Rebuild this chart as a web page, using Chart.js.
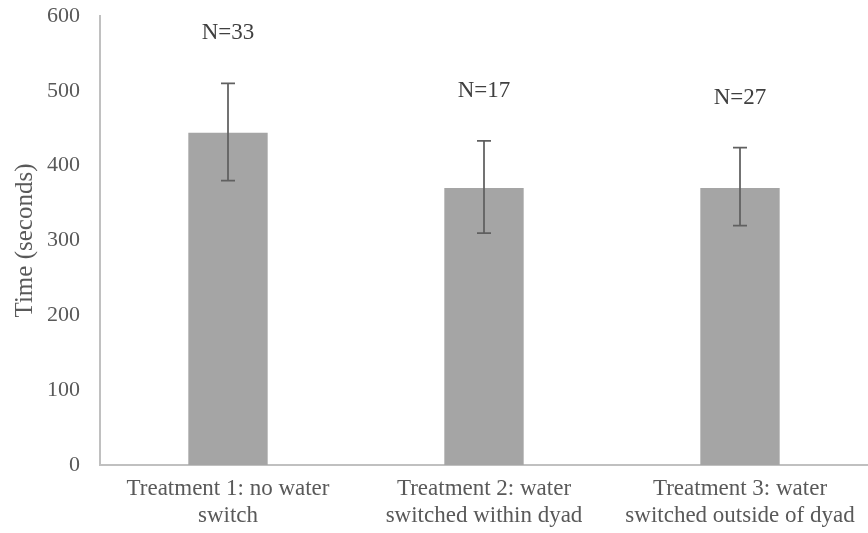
<!DOCTYPE html>
<html>
<head>
<meta charset="utf-8">
<script src="https://cdn.jsdelivr.net/npm/chart.js@4"></script>
<style>
  html, body { margin: 0; padding: 0; background: #fff; }
  #wrap { width: 868px; height: 533px; }
</style>
</head>
<body>
<div id="wrap"><canvas id="myChart"></canvas></div>
<script>
var categories = [
  ["Treatment 1: no water", "switch"],
  ["Treatment 2: water", "switched within dyad"],
  ["Treatment 3: water", "switched outside of dyad"],
];
var meanTime = [444, 370, 370];
var errHigh = [510, 433, 424];
var errLow = [380, 310, 320];
var sampleLabels = ["N=33", "N=17", "N=27"];
var yTicks = [0, 100, 200, 300, 400, 500, 600];

var serif = "'Liberation Serif', 'Times New Roman', serif";

// error bars + N= labels, drawn through the chart scales
var errorBars = {
  id: "errorBars",
  afterDatasetsDraw(chart) {
    const ctx = chart.ctx;
    const x = chart.scales.x;
    const y = chart.scales.y;
    ctx.save();
    ctx.strokeStyle = "#606060";
    ctx.lineWidth = 1.75;
    meanTime.forEach((v, i) => {
      const px = x.getPixelForValue(i);
      const top = y.getPixelForValue(errHigh[i]);
      const bot = y.getPixelForValue(errLow[i]);
      ctx.beginPath();
      ctx.moveTo(px, top);
      ctx.lineTo(px, bot);
      ctx.moveTo(px - 7, top);
      ctx.lineTo(px + 7, top);
      ctx.moveTo(px - 7, bot);
      ctx.lineTo(px + 7, bot);
      ctx.stroke();

      ctx.fillStyle = "#404040";
      ctx.font = "23px " + serif;
      ctx.textAlign = "center";
      ctx.textBaseline = "middle";
      ctx.fillText(sampleLabels[i], px, top - 50);
    });
    ctx.restore();
  },
};

document.addEventListener("DOMContentLoaded", function () {
  const ctx = document.getElementById("myChart");

  new Chart(ctx, {
    type: "bar",
    data: {
      labels: categories,
      datasets: [
        {
          label: "Time",
          data: meanTime,
          backgroundColor: "#a5a5a5",
          barPercentage: 0.31,
          categoryPercentage: 1,
        },
      ],
    },
    options: {
      responsive: true,
      maintainAspectRatio: false,
      animation: false,
      layout: { padding: { top: 16, right: 0, bottom: 0, left: 0 } },
      plugins: {
        legend: { display: false },
        tooltip: { enabled: false },
      },
      scales: {
        x: {
          afterFit(scale) {
            scale.height = 68;
          },
          grid: { display: false, drawTicks: false },
          border: { display: true, color: "#c0c0c0", width: 2 },
          ticks: {
            color: "#595959",
            font: { family: serif, size: 23, lineHeight: 1.18 },
            padding: 10,
            maxRotation: 0,
          },
        },
        y: {
          min: 0,
          max: 600,
          afterFit(scale) {
            scale.width = 100;
            scale.paddingTop = 0;
          },
          afterBuildTicks(scale) {
            scale.ticks = yTicks.map((v) => ({ value: v }));
          },
          grid: { display: false, drawTicks: false },
          border: { display: true, color: "#c0c0c0", width: 2 },
          ticks: {
            color: "#595959",
            font: { family: serif, size: 22 },
            padding: 20,
          },
          title: {
            display: true,
            text: "Time (seconds)",
            color: "#595959",
            font: { family: serif, size: 25, weight: "normal" },
            padding: { top: 10, bottom: 0 },
          },
        },
      },
    },
    plugins: [errorBars],
  });
});
</script>
</body>
</html>
